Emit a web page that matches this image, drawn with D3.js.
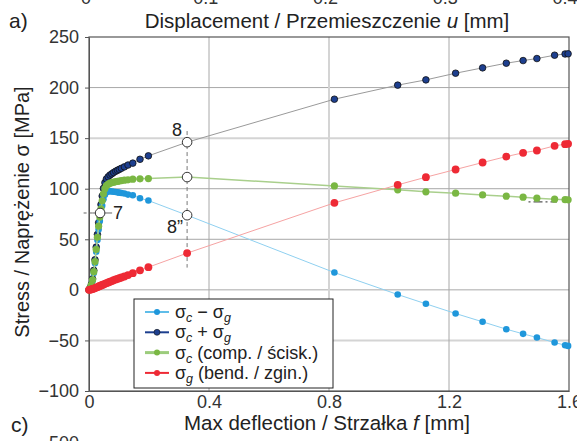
<!DOCTYPE html>
<html>
<head>
<meta charset="utf-8">
<script src="https://cdn.jsdelivr.net/npm/d3@7"></script>
<style>
  body { margin: 0; background: #fff; }
  svg { display: block; font-family: "Liberation Sans", Arial, sans-serif; }
  .axis path, .axis line { stroke: #555; }
  .axis text { fill: #333; font-size: 18px; }
</style>
</head>
<body>
<svg id="chart" width="577" height="441"></svg>
<script>
// max deflection f [mm]
const deflection = [0, 0.004, 0.008, 0.012, 0.016, 0.020, 0.024, 0.028, 0.032, 0.036, 0.040, 0.044, 0.048, 0.053, 0.058, 0.064, 0.070, 0.076, 0.082, 0.089, 0.095, 0.101, 0.108, 0.118, 0.130, 0.146, 0.170, 0.198, 0.327, 0.818, 1.029, 1.123, 1.222, 1.312, 1.391, 1.447, 1.493, 1.552, 1.587, 1.597];

// stresses [MPa]
const sigmaComp = [0, 2, 5, 10, 18, 28, 40, 52, 63, 72, 80, 88, 95, 100, 103, 104.5, 105.5, 106, 106.5, 107, 107.3, 107.6, 108, 108.4, 108.8, 109.4, 109.8, 110, 111.5, 102.8, 98.9, 96.9, 95.6, 93.9, 92.6, 91.6, 90.6, 89.7, 89.2, 89];
const sigmaBend = [0, 0.2, 0.5, 0.9, 1.3, 1.8, 2.3, 2.8, 3.3, 3.8, 4.3, 4.8, 5.3, 6, 6.6, 7.3, 8, 8.7, 9.5, 10.3, 10.9, 11.5, 12.2, 13.2, 14.6, 16.5, 19.3, 22.4, 36.3, 86, 103.8, 111.4, 119, 125.9, 131.8, 135.5, 137.8, 142.4, 144, 144.4];
const sigmaPlus = [0, 2.2, 5.5, 10.9, 19.3, 29.8, 42.3, 54.8, 66.3, 75.8, 84.3, 92.8, 100.3, 106, 109.6, 111.8, 113.5, 114.7, 116, 117.3, 118.2, 119.1, 120.2, 121.6, 123.4, 125.3, 129.1, 132.5, 146, 188.5, 202.4, 207.6, 214.2, 219.5, 224.1, 226.7, 228.7, 232, 233.2, 233.4];
const sigmaMinus = [0, 1.8, 4.5, 9.1, 16.7, 26.2, 37.7, 49.2, 59.7, 68.2, 75.7, 83.2, 89.7, 94, 96.4, 97.2, 97.5, 97.3, 97, 96.7, 96.4, 96.1, 95.8, 95.2, 94.2, 93.6, 90.5, 88.3, 73.8, 17.1, -4.6, -13.8, -23.4, -31.6, -38.9, -43.5, -47.1, -52.1, -54.7, -55.4];

const xTicks = [0, 0.4, 0.8, 1.2, 1.6];
const yTicks = [-100, -50, 0, 50, 100, 150, 200, 250];
const topTicks = [0, 0.1, 0.2, 0.3, 0.4];

// marked points 7, 8, 8'' (deflection, stress)
const markPoints = [
  { f: 0.037, s: 76 },
  { f: 0.327, s: 146 },
  { f: 0.327, s: 111.5 },
  { f: 0.327, s: 73.8 }
];

const series = [
  { name: "plus", values: sigmaPlus, line: "#9a9a9a", lineW: 1, fill: "#1d3f8f", stroke: "#111", r: 3.3 },
  { name: "minus", values: sigmaMinus, line: "#8fd0f0", lineW: 1, fill: "#1f97db", stroke: "none", r: 3.3 },
  { name: "comp", values: sigmaComp, line: "#a9cf8c", lineW: 1.5, fill: "#7ab743", stroke: "none", r: 3.6 },
  { name: "bend", values: sigmaBend, line: "#f6a3a3", lineW: 1, fill: "#ee2a35", stroke: "none", r: 3.9 }
];

const svg = d3.select("#chart");
const pL = 89, pR = 569, pT = 37, pB = 391;

const x = d3.scaleLinear().domain([0, 1.6]).range([pL, pR]);
const y = d3.scaleLinear().domain([-100, 250]).range([pB, pT]);
const xTop = d3.scaleLinear().domain([0, 0.4]).range([86, 565]);

// grid (some lines lighter and thicker, as in the source)
const lightY = [150, -50];
const gridY = yTicks.filter(v => v > -100 && v < 250);
svg.append("g").selectAll("line").data(gridY).enter().append("line")
  .attr("x1", pL).attr("x2", pR)
  .attr("y1", d => y(d)).attr("y2", d => y(d))
  .attr("stroke", d => lightY.includes(d) ? "#d4d4d4" : "#a8a8a8")
  .attr("stroke-width", d => lightY.includes(d) ? 2 : 1);
svg.append("g").selectAll("line").data([0.4, 0.8, 1.2]).enter().append("line")
  .attr("y1", pT).attr("y2", pB)
  .attr("x1", d => x(d)).attr("x2", d => x(d))
  .attr("stroke", d => d === 0.8 ? "#d4d4d4" : "#a8a8a8")
  .attr("stroke-width", d => d === 0.8 ? 2 : 1);

// axes
svg.append("g").attr("class", "axis")
  .attr("transform", `translate(0,${pB})`)
  .call(d3.axisBottom(x).tickValues(xTicks).tickSize(0).tickPadding(4)
    .tickFormat(d => d === 0 ? "0" : d3.format(".1f")(d)));
svg.append("g").attr("class", "axis")
  .attr("transform", `translate(${pL},0)`)
  .call(d3.axisLeft(y).tickValues(yTicks).tickSize(4).tickPadding(6).tickSizeOuter(0));
svg.append("rect").attr("x", pL).attr("y", pT).attr("width", pR - pL).attr("height", pB - pT)
  .attr("fill", "none").attr("stroke", "#555").attr("stroke-width", 1.2);

// cut-off labels of the neighbouring charts
svg.append("g").selectAll("text").data(topTicks).enter().append("text")
  .attr("x", d => xTop(d)).attr("y", 4).attr("text-anchor", "middle")
  .attr("font-size", 18).attr("fill", "#333")
  .text(d => d === 0 ? "0" : d3.format(".1f")(d));
svg.append("text").attr("x", 79).attr("y", 449).attr("text-anchor", "end")
  .attr("font-size", 18).attr("fill", "#333").text("500");

// titles
const t1 = svg.append("text").attr("x", 327).attr("y", 28).attr("text-anchor", "middle")
  .attr("font-size", 20.5).attr("fill", "#222");
t1.append("tspan").text("Displacement / Przemieszczenie ");
t1.append("tspan").attr("font-style", "italic").text("u");
t1.append("tspan").text(" [mm]");

const t2 = svg.append("text").attr("x", 327).attr("y", 430).attr("text-anchor", "middle")
  .attr("font-size", 20.5).attr("fill", "#222");
t2.append("tspan").text("Max deflection / Strzałka ");
t2.append("tspan").attr("font-style", "italic").text("f");
t2.append("tspan").text(" [mm]");

svg.append("text").attr("transform", "translate(29,212) rotate(-90)").attr("text-anchor", "middle")
  .attr("font-size", 20).attr("fill", "#222").text("Stress / Naprężenie σ [MPa]");

svg.append("text").attr("x", 9).attr("y", 28).attr("font-size", 21).attr("fill", "#222").text("a)");
svg.append("text").attr("x", 11).attr("y", 432).attr("font-size", 21).attr("fill", "#222").text("c)");

// vertical dashed line at point 8
svg.append("line").attr("x1", x(0.327)).attr("x2", x(0.327)).attr("y1", y(157)).attr("y2", y(22))
  .attr("stroke", "#777").attr("stroke-dasharray", "4,3");
// line at point 7
svg.append("line").attr("x1", x(-0.018)).attr("x2", x(0.012)).attr("y1", y(76)).attr("y2", y(76))
  .attr("stroke", "#666").attr("stroke-dasharray", "3,3");
svg.append("line").attr("x1", x(0.012)).attr("x2", x(0.077)).attr("y1", y(76)).attr("y2", y(76))
  .attr("stroke", "#666");
// small dashed mark on the right
svg.append("line").attr("x1", x(1.465)).attr("x2", x(1.56)).attr("y1", y(87)).attr("y2", y(87))
  .attr("stroke", "#555").attr("stroke-width", 1.3).attr("stroke-dasharray", "2,3,9,3");

// series
const line = d3.line().x(d => x(d[0])).y(d => y(d[1]));
series.forEach(s => {
  const pts = deflection.map((f, i) => [f, s.values[i]]);
  svg.append("path").datum(pts).attr("d", line)
    .attr("fill", "none").attr("stroke", s.line).attr("stroke-width", s.lineW);
  svg.append("g").selectAll("circle").data(pts).enter().append("circle")
    .attr("cx", d => x(d[0])).attr("cy", d => y(d[1])).attr("r", s.r)
    .attr("fill", s.fill).attr("stroke", s.stroke).attr("stroke-width", 0.8);
});

// open circles and labels
svg.append("g").selectAll("circle").data(markPoints).enter().append("circle")
  .attr("cx", d => x(d.f)).attr("cy", d => y(d.s)).attr("r", 4.8)
  .attr("fill", "#fff").attr("stroke", "#333").attr("stroke-width", 1);
svg.append("text").attr("x", 172).attr("y", 136).attr("font-size", 18).attr("fill", "#222").text("8");
svg.append("text").attr("x", 167).attr("y", 233).attr("font-size", 18).attr("fill", "#222").text("8\u201D");
svg.append("text").attr("x", 113).attr("y", 219).attr("font-size", 18).attr("fill", "#222").text("7");

// legend
const legendItems = [
  { sub1: "c", op: " − σ", sub2: "g", s: series[1] },
  { sub1: "c", op: " + σ", sub2: "g", s: series[0] },
  { sub1: "c", op: " (comp. / ścisk.)", sub2: "", s: series[2] },
  { sub1: "g", op: " (bend. / zgin.)", sub2: "", s: series[3] }
];
const legendLine = { "plus": "#1d3f8f", "minus": "#5fbde9", "comp": "#9ccc7c", "bend": "#ee2a35" };
const lg = svg.append("g");
lg.append("rect").attr("x", 134).attr("y", 299).attr("width", 199).attr("height", 89)
  .attr("fill", "#fff").attr("stroke", "#222").attr("stroke-width", 1);
legendItems.forEach((d, i) => {
  const cy = 312 + i * 20.3;
  lg.append("line").attr("x1", 145).attr("x2", 169).attr("y1", cy).attr("y2", cy)
    .attr("stroke", legendLine[d.s.name]).attr("stroke-width", d.s.name === "comp" ? 3 : 2);
  lg.append("circle").attr("cx", 157).attr("cy", cy).attr("r", 3)
    .attr("fill", d.s.fill).attr("stroke", d.s.stroke).attr("stroke-width", 0.6);
  const t = lg.append("text").attr("x", 175).attr("y", cy + 6).attr("font-size", 18).attr("fill", "#222");
  t.append("tspan").text("σ");
  t.append("tspan").attr("font-size", 12.5).attr("font-style", "italic").attr("dy", 4).text(d.sub1);
  t.append("tspan").attr("dy", -4).text(d.op);
  if (d.sub2) t.append("tspan").attr("font-size", 12.5).attr("font-style", "italic").attr("dy", 4).text(d.sub2);
});
</script>
</body>
</html>
